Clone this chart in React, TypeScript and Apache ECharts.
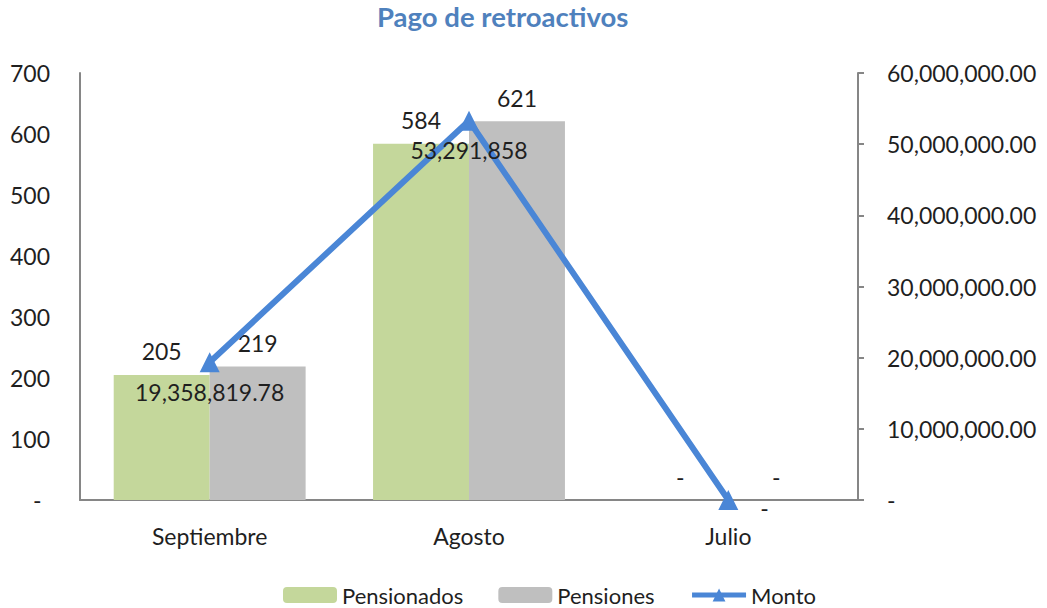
import React, { useEffect, useRef } from "react";
import * as echarts from "echarts";

const categories = ["Septiembre", "Agosto", "Julio"];
const pensionados = [205, 584, 0];
const pensiones = [219, 621, 0];
const monto = [19358819.78, 53291858, 0];
const leftTicks = { min: 0, max: 700, interval: 100 };
const rightTicks = { min: 0, max: 60000000, interval: 10000000 };

const FONT = "Lato, 'Open Sans', sans-serif";
const TXT = "#1f1f1f";
const BLUE = "#4A86D6";

function fmtMoney(v: number): string {
  if (v === 0) return "-";
  if (Number.isInteger(v)) return v.toLocaleString("en-US");
  return v.toLocaleString("en-US", { minimumFractionDigits: 2, maximumFractionDigits: 2 });
}

export default function App() {
  const ref = useRef<HTMLDivElement>(null);
  useEffect(() => {
    if (!ref.current) return;
    const chart = echarts.init(ref.current, undefined, { renderer: "svg" });
    const barLabel = {
      show: true,
      position: "top",
      distance: 12,
      fontSize: 23,
      fontFamily: FONT,
      color: TXT,
      formatter: (p: any) => (p.value === 0 ? "-" : String(p.value)),
    };
    chart.setOption({
      animation: false,
      backgroundColor: "#ffffff",
      title: {
        text: "Pago de retroactivos",
        left: 377,
        top: 2,
        padding: 0,
        textStyle: { color: "#4F81BD", fontSize: 27.5, fontWeight: "bold", fontFamily: FONT },
      },
      grid: { left: 80, right: 189, top: 73, bottom: 108, containLabel: false },
      legend: {
        left: 278,
        top: 579,
        itemWidth: 54,
        itemHeight: 16,
        itemGap: 35,
        textStyle: { fontSize: 22, fontFamily: FONT, color: TXT },
        data: [
          "Pensionados",
          "Pensiones",
          { name: "Monto", lineStyle: { width: 5, color: BLUE } } as any,
        ],
      },
      xAxis: {
        type: "category",
        data: categories,
        axisLine: { lineStyle: { color: "#868686", width: 2 } },
        axisTick: { show: false },
        axisLabel: { fontSize: 23, fontFamily: FONT, color: TXT, margin: 24 },
      },
      yAxis: [
        {
          type: "value",
          ...leftTicks,
          position: "left",
          splitLine: { show: false },
          axisLine: { show: true, lineStyle: { color: "#868686", width: 2 } },
          axisTick: { show: false },
          axisLabel: {
            fontSize: 23,
            fontFamily: FONT,
            color: TXT,
            align: "left",
            margin: 70,
            formatter: (v: number) => (v === 0 ? "{d|-}" : String(v)),
            rich: { d: { padding: [0, 0, 0, 23], fontSize: 23, fontFamily: FONT, color: TXT } },
          },
        },
        {
          type: "value",
          ...rightTicks,
          position: "right",
          splitLine: { show: false },
          axisLine: { show: true, lineStyle: { color: "#868686", width: 2 } },
          axisTick: { show: true, inside: false, length: 6, lineStyle: { color: "#868686", width: 2 } },
          axisLabel: {
            fontSize: 23,
            fontFamily: FONT,
            color: TXT,
            margin: 29,
            formatter: (v: number) =>
              v === 0 ? "-" : v.toLocaleString("en-US", { minimumFractionDigits: 2, maximumFractionDigits: 2 }),
          },
        },
      ],
      series: [
        {
          name: "Pensionados",
          type: "bar",
          data: pensionados,
          barGap: "0%",
          barCategoryGap: "26%",
          itemStyle: { color: "#C4D79B" },
          label: barLabel,
        },
        {
          name: "Pensiones",
          type: "bar",
          data: pensiones,
          itemStyle: { color: "#BFBFBF" },
          label: barLabel,
        },
        {
          name: "Monto",
          type: "line",
          yAxisIndex: 1,
          data: monto.map((v, i) =>
            i === 2
              ? { value: v, label: { position: "right", distance: 22, offset: [0, 8] } }
              : { value: v }
          ),
          symbol: "triangle",
          symbolSize: 20,
          lineStyle: { color: BLUE, width: 6 },
          itemStyle: { color: BLUE },
          z: 5,
          label: {
            show: true,
            position: "bottom",
            distance: 8,
            fontSize: 23,
            fontFamily: FONT,
            color: TXT,
            formatter: (p: any) => fmtMoney(p.value),
          },
        },
      ],
    });
    return () => chart.dispose();
  }, []);
  return <div ref={ref} style={{ width: 1047, height: 608, position: "absolute", left: 0, top: 0 }} />;
}
